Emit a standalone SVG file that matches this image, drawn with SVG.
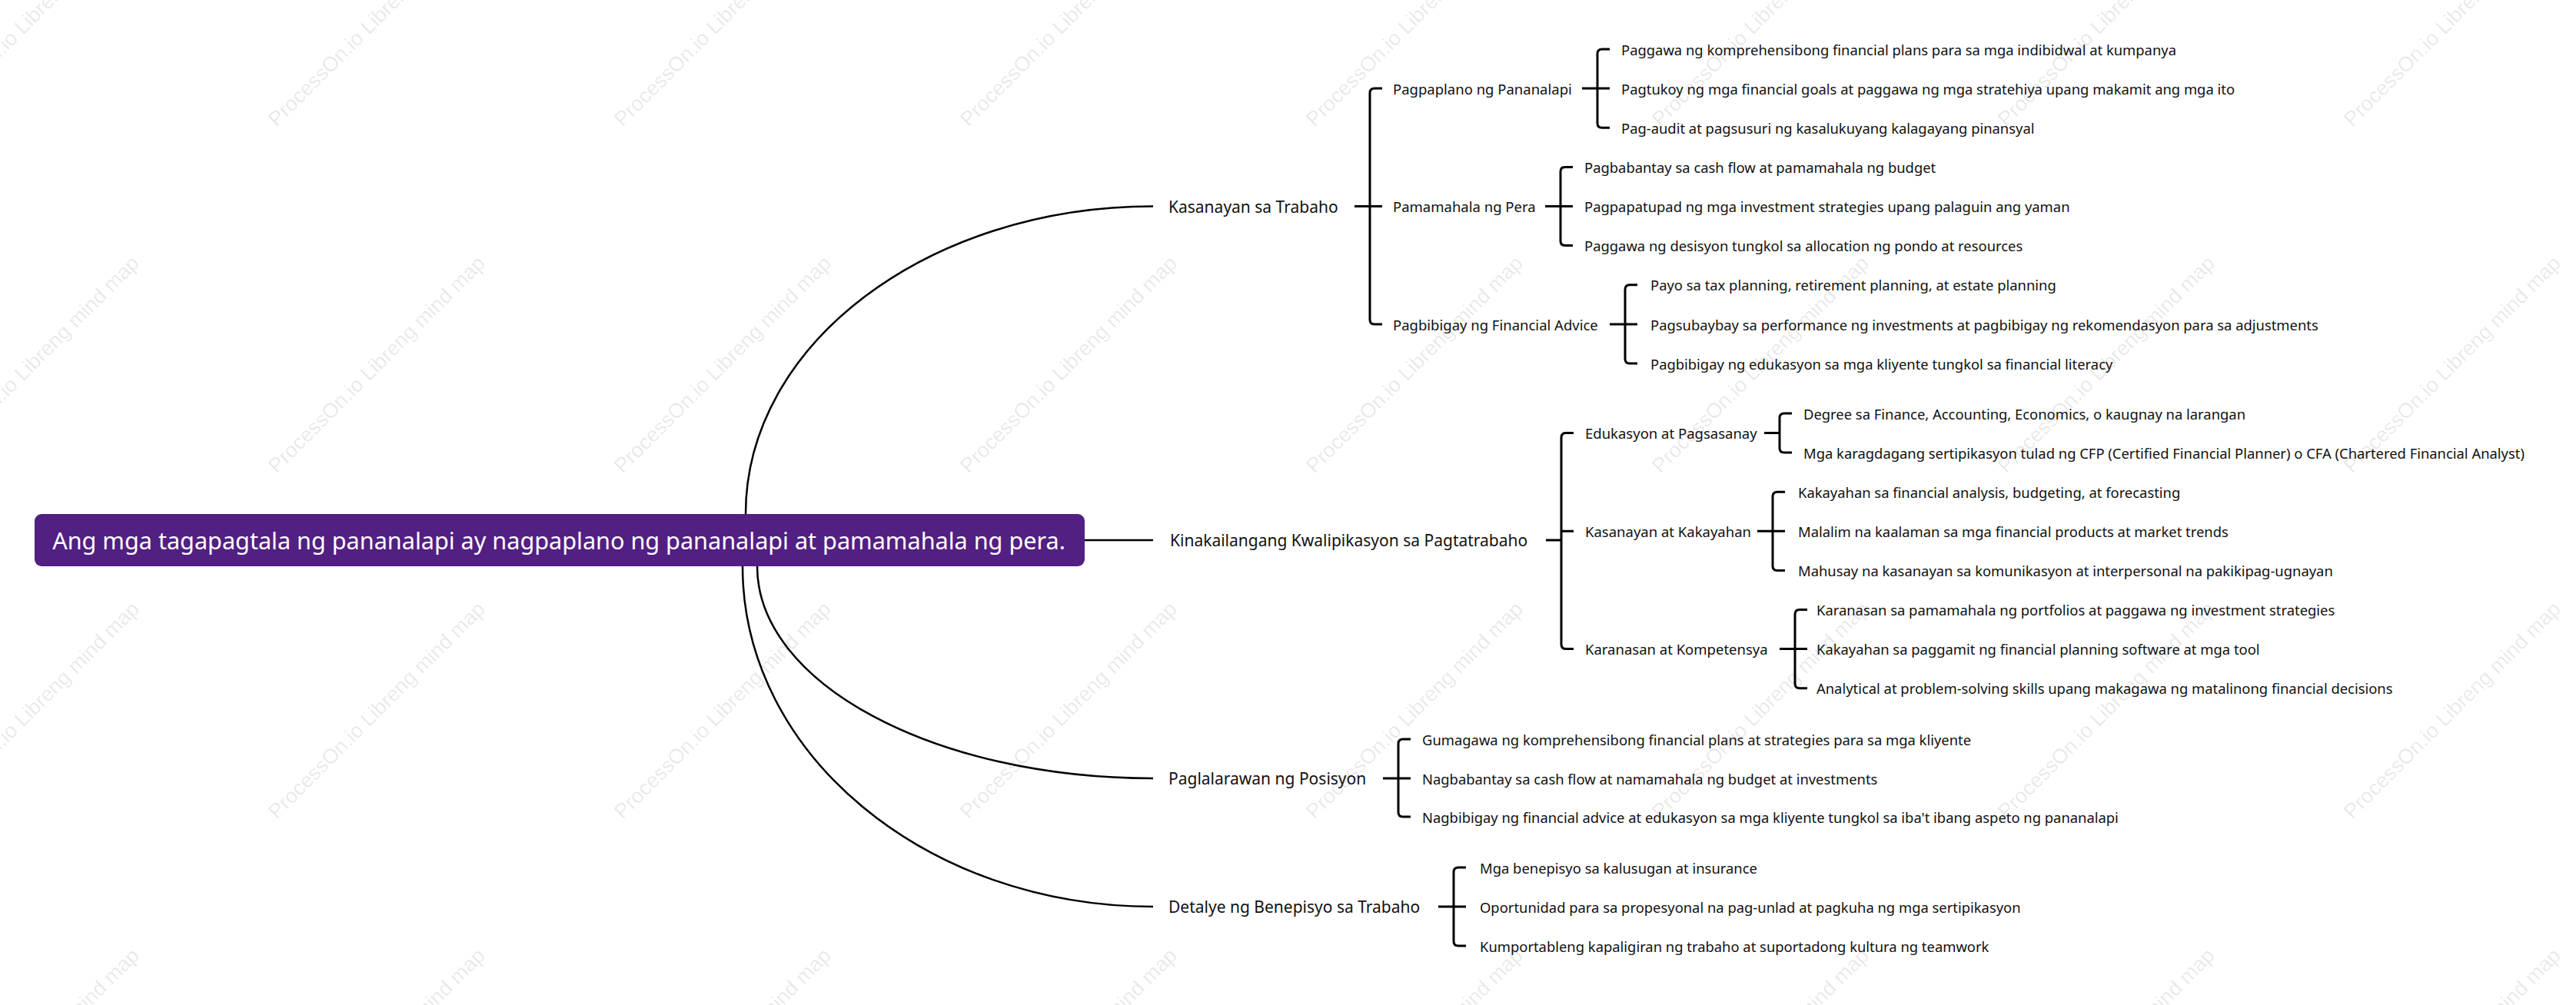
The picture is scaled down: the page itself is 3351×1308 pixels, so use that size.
<svg xmlns="http://www.w3.org/2000/svg" width="3351" height="1308" viewBox="0 0 3351 1308">
<style>
.wm{font-family:"Liberation Sans",Arial,sans-serif;font-size:27px;fill:#000;fill-opacity:0.09}
.t{font-family:"Noto Sans","Open Sans",sans-serif;fill:#111;dominant-baseline:central}
.root{font-family:"Noto Sans","Open Sans",sans-serif;font-size:30.6px;fill:#fff;dominant-baseline:central;text-anchor:middle}
.l1{font-size:21px}
.l2{font-size:18.5px}
.l3{font-size:18.4px}
.c{fill:none;stroke:#000;stroke-width:2.5}
.b{fill:none;stroke:#000;stroke-width:3}
</style>
<rect width="3351" height="1308" fill="#fff"/>
<g id="watermarks">
<text class="wm" transform="translate(-90,166) rotate(-45)">ProcessOn.io Libreng mind map</text>
<text class="wm" transform="translate(360,166) rotate(-45)">ProcessOn.io Libreng mind map</text>
<text class="wm" transform="translate(810,166) rotate(-45)">ProcessOn.io Libreng mind map</text>
<text class="wm" transform="translate(1260,166) rotate(-45)">ProcessOn.io Libreng mind map</text>
<text class="wm" transform="translate(1710,166) rotate(-45)">ProcessOn.io Libreng mind map</text>
<text class="wm" transform="translate(2160,166) rotate(-45)">ProcessOn.io Libreng mind map</text>
<text class="wm" transform="translate(2610,166) rotate(-45)">ProcessOn.io Libreng mind map</text>
<text class="wm" transform="translate(3060,166) rotate(-45)">ProcessOn.io Libreng mind map</text>
<text class="wm" transform="translate(-90,617) rotate(-45)">ProcessOn.io Libreng mind map</text>
<text class="wm" transform="translate(360,617) rotate(-45)">ProcessOn.io Libreng mind map</text>
<text class="wm" transform="translate(810,617) rotate(-45)">ProcessOn.io Libreng mind map</text>
<text class="wm" transform="translate(1260,617) rotate(-45)">ProcessOn.io Libreng mind map</text>
<text class="wm" transform="translate(1710,617) rotate(-45)">ProcessOn.io Libreng mind map</text>
<text class="wm" transform="translate(2160,617) rotate(-45)">ProcessOn.io Libreng mind map</text>
<text class="wm" transform="translate(2610,617) rotate(-45)">ProcessOn.io Libreng mind map</text>
<text class="wm" transform="translate(3060,617) rotate(-45)">ProcessOn.io Libreng mind map</text>
<text class="wm" transform="translate(-90,1067) rotate(-45)">ProcessOn.io Libreng mind map</text>
<text class="wm" transform="translate(360,1067) rotate(-45)">ProcessOn.io Libreng mind map</text>
<text class="wm" transform="translate(810,1067) rotate(-45)">ProcessOn.io Libreng mind map</text>
<text class="wm" transform="translate(1260,1067) rotate(-45)">ProcessOn.io Libreng mind map</text>
<text class="wm" transform="translate(1710,1067) rotate(-45)">ProcessOn.io Libreng mind map</text>
<text class="wm" transform="translate(2160,1067) rotate(-45)">ProcessOn.io Libreng mind map</text>
<text class="wm" transform="translate(2610,1067) rotate(-45)">ProcessOn.io Libreng mind map</text>
<text class="wm" transform="translate(3060,1067) rotate(-45)">ProcessOn.io Libreng mind map</text>
<text class="wm" transform="translate(-90,1518) rotate(-45)">ProcessOn.io Libreng mind map</text>
<text class="wm" transform="translate(360,1518) rotate(-45)">ProcessOn.io Libreng mind map</text>
<text class="wm" transform="translate(810,1518) rotate(-45)">ProcessOn.io Libreng mind map</text>
<text class="wm" transform="translate(1260,1518) rotate(-45)">ProcessOn.io Libreng mind map</text>
<text class="wm" transform="translate(1710,1518) rotate(-45)">ProcessOn.io Libreng mind map</text>
<text class="wm" transform="translate(2160,1518) rotate(-45)">ProcessOn.io Libreng mind map</text>
<text class="wm" transform="translate(2610,1518) rotate(-45)">ProcessOn.io Libreng mind map</text>
<text class="wm" transform="translate(3060,1518) rotate(-45)">ProcessOn.io Libreng mind map</text>
</g>
<g id="connectors">
<path class="c" d="M970,669 C970,447.8 1207.3,268.5 1500,268.5"/>
<path class="c" d="M1411,703 H1500"/>
<path class="c" d="M985,737 C985,889.4 1215.6,1013 1500,1013"/>
<path class="c" d="M966,737 C966,981.7 1205,1180 1500,1180"/>
<path class="b" d="M1762,268.5 H1798"/>
<path class="b" d="M1798,115 H1788 Q1782,115 1782,121 V416 Q1782,422 1788,422 H1798"/>
<path class="b" d="M2058,115 H2094"/>
<path class="b" d="M2094,64 H2084 Q2078,64 2078,70 V160.3 Q2078,166.3 2084,166.3 H2094"/>
<path class="b" d="M2010,268.5 H2046"/>
<path class="b" d="M2046,217.4 H2036 Q2030,217.4 2030,223.4 V313.6 Q2030,319.6 2036,319.6 H2046"/>
<path class="b" d="M2094,422 H2130"/>
<path class="b" d="M2130,370.8 H2120 Q2114,370.8 2114,376.8 V467 Q2114,473 2120,473 H2130"/>
<path class="b" d="M2011,703 H2031"/>
<path class="b" d="M2031,691.3 H2047"/>
<path class="b" d="M2047,563.5 H2037 Q2031,563.5 2031,569.5 V838.6 Q2031,844.6 2037,844.6 H2047"/>
<path class="b" d="M2295,563.5 H2315"/>
<path class="b" d="M2331,538 H2321 Q2315,538 2315,544 V583 Q2315,589 2321,589 H2331"/>
<path class="b" d="M2286,691.3 H2322"/>
<path class="b" d="M2322,640.2 H2312 Q2306,640.2 2306,646.2 V736.4 Q2306,742.4 2312,742.4 H2322"/>
<path class="b" d="M2315,844.6 H2351"/>
<path class="b" d="M2351,793.5 H2341 Q2335,793.5 2335,799.5 V889.7 Q2335,895.7 2341,895.7 H2351"/>
<path class="b" d="M1799,1013 H1835"/>
<path class="b" d="M1835,962 H1825 Q1819,962 1819,968 V1057 Q1819,1063 1825,1063 H1835"/>
<path class="b" d="M1871,1180 H1907"/>
<path class="b" d="M1907,1129 H1897 Q1891,1129 1891,1135 V1225 Q1891,1231 1897,1231 H1907"/>
</g>
<g id="root">
<rect x="45" y="669" width="1366" height="68" rx="9" fill="#521f82"/>
<text class="root" x="727" y="703">Ang mga tagapagtala ng pananalapi ay nagpaplano ng pananalapi at pamamahala ng pera.</text>
</g>
<g id="n1"><text class="t l1" x="1520" y="268.5">Kasanayan sa Trabaho</text></g>
<g id="n1a"><text class="t l2" x="1812" y="115">Pagpaplano ng Pananalapi</text></g>
<g id="n1a1"><text class="t l3" x="2109" y="64">Paggawa ng komprehensibong financial plans para sa mga indibidwal at kumpanya</text></g>
<g id="n1a2"><text class="t l3" x="2109" y="115">Pagtukoy ng mga financial goals at paggawa ng mga stratehiya upang makamit ang mga ito</text></g>
<g id="n1a3"><text class="t l3" x="2109" y="166.3">Pag-audit at pagsusuri ng kasalukuyang kalagayang pinansyal</text></g>
<g id="n1b"><text class="t l2" x="1812" y="268.5">Pamamahala ng Pera</text></g>
<g id="n1b1"><text class="t l3" x="2061" y="217.4">Pagbabantay sa cash flow at pamamahala ng budget</text></g>
<g id="n1b2"><text class="t l3" x="2061" y="268.5">Pagpapatupad ng mga investment strategies upang palaguin ang yaman</text></g>
<g id="n1b3"><text class="t l3" x="2061" y="319.6">Paggawa ng desisyon tungkol sa allocation ng pondo at resources</text></g>
<g id="n1c"><text class="t l2" x="1812" y="422">Pagbibigay ng Financial Advice</text></g>
<g id="n1c1"><text class="t l3" x="2147" y="370.8">Payo sa tax planning, retirement planning, at estate planning</text></g>
<g id="n1c2"><text class="t l3" x="2147" y="422">Pagsubaybay sa performance ng investments at pagbibigay ng rekomendasyon para sa adjustments</text></g>
<g id="n1c3"><text class="t l3" x="2147" y="473">Pagbibigay ng edukasyon sa mga kliyente tungkol sa financial literacy</text></g>
<g id="n2"><text class="t l1" x="1522" y="703">Kinakailangang Kwalipikasyon sa Pagtatrabaho</text></g>
<g id="n2a"><text class="t l2" x="2062" y="563.5">Edukasyon at Pagsasanay</text></g>
<g id="n2a1"><text class="t l3" x="2346" y="538">Degree sa Finance, Accounting, Economics, o kaugnay na larangan</text></g>
<g id="n2a2"><text class="t l3" x="2346" y="589">Mga karagdagang sertipikasyon tulad ng CFP (Certified Financial Planner) o CFA (Chartered Financial Analyst)</text></g>
<g id="n2b"><text class="t l2" x="2062" y="691.3">Kasanayan at Kakayahan</text></g>
<g id="n2b1"><text class="t l3" x="2339" y="640.2">Kakayahan sa financial analysis, budgeting, at forecasting</text></g>
<g id="n2b2"><text class="t l3" x="2339" y="691.3">Malalim na kaalaman sa mga financial products at market trends</text></g>
<g id="n2b3"><text class="t l3" x="2339" y="742.4">Mahusay na kasanayan sa komunikasyon at interpersonal na pakikipag-ugnayan</text></g>
<g id="n2c"><text class="t l2" x="2062" y="844.6">Karanasan at Kompetensya</text></g>
<g id="n2c1"><text class="t l3" x="2363" y="793.5">Karanasan sa pamamahala ng portfolios at paggawa ng investment strategies</text></g>
<g id="n2c2"><text class="t l3" x="2363" y="844.6">Kakayahan sa paggamit ng financial planning software at mga tool</text></g>
<g id="n2c3"><text class="t l3" x="2363" y="895.7">Analytical at problem-solving skills upang makagawa ng matalinong financial decisions</text></g>
<g id="n3"><text class="t l1" x="1520" y="1013">Paglalarawan ng Posisyon</text></g>
<g id="n3a"><text class="t l3" x="1850" y="962">Gumagawa ng komprehensibong financial plans at strategies para sa mga kliyente</text></g>
<g id="n3b"><text class="t l3" x="1850" y="1013">Nagbabantay sa cash flow at namamahala ng budget at investments</text></g>
<g id="n3c"><text class="t l3" x="1850" y="1063">Nagbibigay ng financial advice at edukasyon sa mga kliyente tungkol sa iba't ibang aspeto ng pananalapi</text></g>
<g id="n4"><text class="t l1" x="1520" y="1180">Detalye ng Benepisyo sa Trabaho</text></g>
<g id="n4a"><text class="t l3" x="1925" y="1129">Mga benepisyo sa kalusugan at insurance</text></g>
<g id="n4b"><text class="t l3" x="1925" y="1180">Oportunidad para sa propesyonal na pag-unlad at pagkuha ng mga sertipikasyon</text></g>
<g id="n4c"><text class="t l3" x="1925" y="1231">Kumportableng kapaligiran ng trabaho at suportadong kultura ng teamwork</text></g>
</svg>
